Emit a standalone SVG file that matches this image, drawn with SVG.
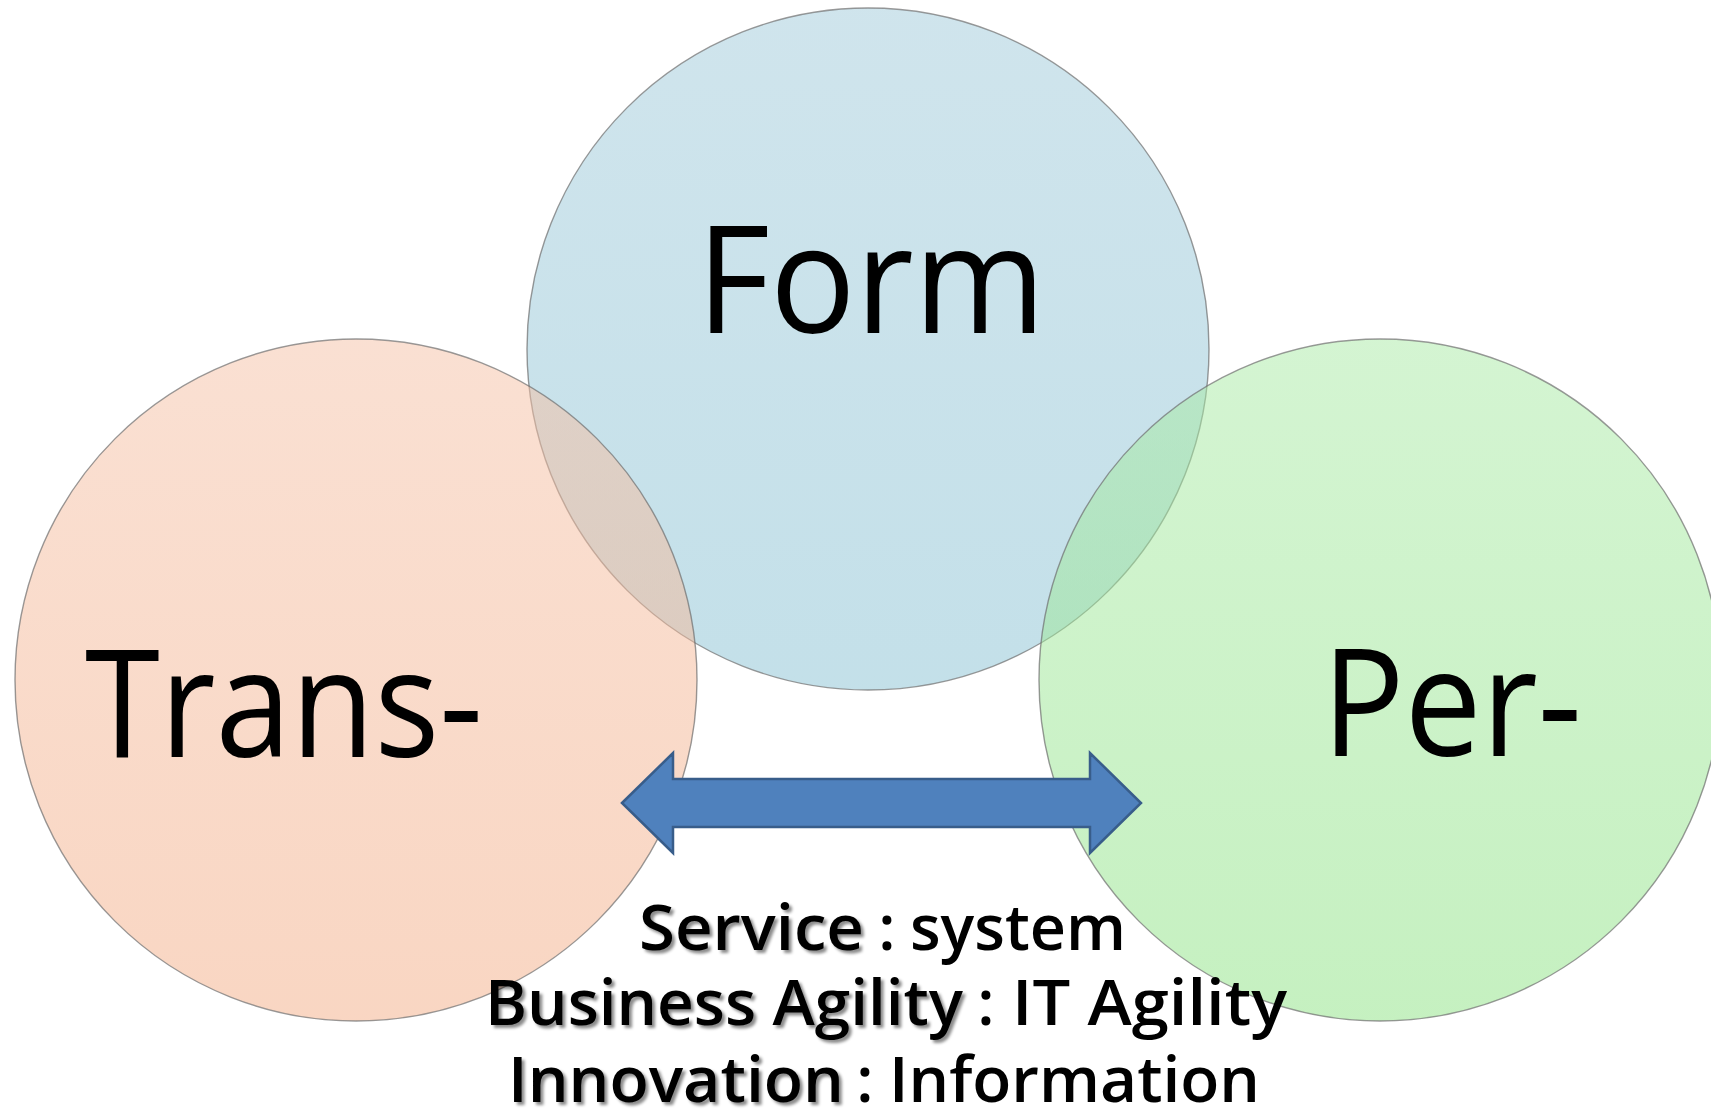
<svg xmlns="http://www.w3.org/2000/svg" width="1711" height="1109" viewBox="0 0 1711 1109">
<defs>
<linearGradient id="gBlue" x1="0" y1="0" x2="0" y2="1">
<stop offset="0" stop-color="#a0cada"/>
<stop offset="1" stop-color="#88c1d3"/>
</linearGradient>
<linearGradient id="gPeach" x1="0" y1="0" x2="0" y2="1">
<stop offset="0" stop-color="#f5c1a6"/>
<stop offset="1" stop-color="#f3ad86"/>
</linearGradient>
<linearGradient id="gGreen" x1="0" y1="0" x2="0" y2="1">
<stop offset="0" stop-color="#a9eaa5"/>
<stop offset="1" stop-color="#8ce282"/>
</linearGradient>
<filter id="shadow" x="-10%" y="-30%" width="120%" height="170%">
<feDropShadow dx="3" dy="3" stdDeviation="1.8" flood-color="#000" flood-opacity="0.45"/>
</filter>
</defs>
<style>
.circ{fill-opacity:0.5;stroke:#6e6e6e;stroke-opacity:0.7;stroke-width:1.4}
.big{font-family:"Open Sans","Noto Sans",sans-serif;font-size:150px;fill:#000;text-anchor:middle}
.sub{font-family:"Open Sans","Noto Sans",sans-serif;font-size:63px;font-weight:600;fill:#000}
.key{filter:url(#shadow)}
.arrow{fill:#4f81bd;stroke:#385d8a;stroke-width:2.5;stroke-linejoin:miter}
</style>
<rect width="1711" height="1109" fill="#ffffff"/>
<g id="node-form">
<circle class="circ" cx="868" cy="349" r="341" fill="url(#gBlue)"/>
<text class="big" x="871" y="333" textLength="349" lengthAdjust="spacingAndGlyphs">Form</text>
</g>
<g id="node-trans">
<circle class="circ" cx="356" cy="680" r="341" fill="url(#gPeach)"/>
<text class="big" x="284" y="757" textLength="398" lengthAdjust="spacingAndGlyphs">Trans-</text>
</g>
<g id="node-per">
<circle class="circ" cx="1380" cy="680" r="341" fill="url(#gGreen)"/>
<text class="big" x="1452" y="756" textLength="260" lengthAdjust="spacingAndGlyphs">Per-</text>
</g>
<g id="connectors">
<path class="arrow" d="M622,803 L673,753 L673,779 L1090,779 L1090,753 L1141,803 L1090,853 L1090,827 L673,827 L673,853 Z"/>
</g>
<g id="labels">
<text class="sub key" x="639" y="950" textLength="225" lengthAdjust="spacingAndGlyphs">Service</text>
<text class="sub" x="887" y="950" text-anchor="middle">:</text>
<text class="sub" x="910" y="950" textLength="216" lengthAdjust="spacingAndGlyphs">system</text>
<text class="sub key" x="485" y="1025" textLength="478" lengthAdjust="spacingAndGlyphs">Business Agility</text>
<text class="sub" x="986" y="1025" text-anchor="middle">:</text>
<text class="sub" x="1012" y="1025" textLength="275" lengthAdjust="spacingAndGlyphs">IT Agility</text>
<text class="sub key" x="508" y="1102" textLength="336" lengthAdjust="spacingAndGlyphs">Innovation</text>
<text class="sub" x="865" y="1102" text-anchor="middle">:</text>
<text class="sub" x="889" y="1102" textLength="371" lengthAdjust="spacingAndGlyphs">Information</text>
</g>
</svg>
